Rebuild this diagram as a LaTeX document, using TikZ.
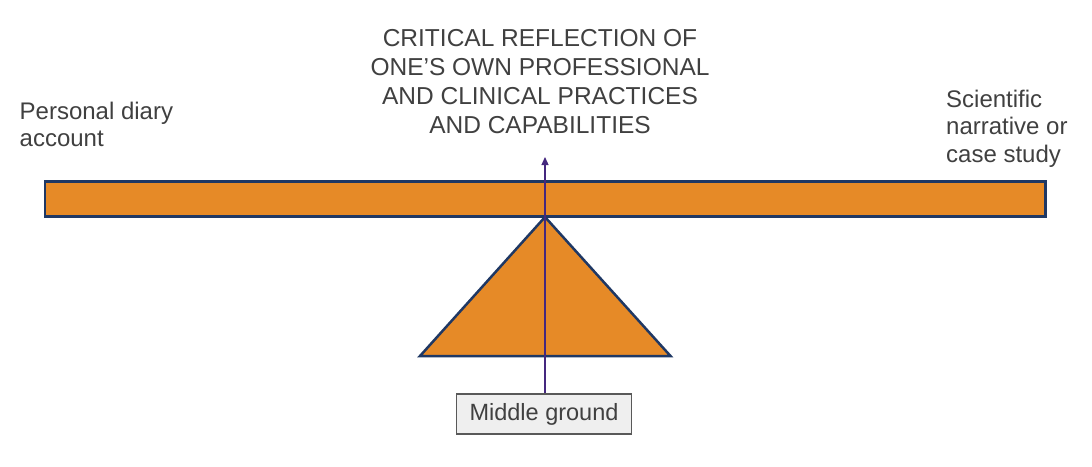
\documentclass[tikz,border=0pt]{standalone}
\usepackage{fontspec}
\setmainfont{Liberation Sans}
\usetikzlibrary{arrows.meta}
\definecolor{barorange}{HTML}{E68A27}
\definecolor{navy}{HTML}{1F3864}
\definecolor{txtgray}{HTML}{404040}
\definecolor{arrowpurple}{HTML}{45287F}
\definecolor{boxborder}{HTML}{595959}
\definecolor{boxfill}{HTML}{EFEFEF}
\tikzset{
  label text/.style={text=txtgray, inner sep=0pt, font=\fontsize{24}{27.5}\selectfont},
  shape fill/.style={fill=barorange, draw=navy, line width=2.5pt, line join=miter},
  pointer/.style={draw=arrowpurple, line width=1.2pt, -{Triangle[width=7pt,length=8pt]}},
  groundbox/.style={draw=boxborder, fill=boxfill, line width=1.8pt, minimum width=175pt, minimum height=40pt, inner sep=0pt, text=txtgray, font=\fontsize{23.5}{28}\selectfont}
}
\begin{document}
\begin{tikzpicture}[x=1pt,y=-1pt]
\useasboundingbox (0,0) rectangle (1092,466);
% beam
\draw[shape fill] (45,181.5) rectangle (1045.5,216.5);
% fulcrum
\draw[shape fill] (420,356) -- (545,217) -- (670.5,356) -- cycle;
% middle ground box
\node[groundbox] (mg) at (544,414) {Middle ground};
\coordinate (tip) at (545,157);
\draw[pointer] (mg.north -| tip) -- (tip);
% texts
\node[label text, anchor=north west, align=left] (left) at (19.5,101.5) {Personal diary\\account};
\node[label text, anchor=north west, align=left] (right) at (946,89.5) {Scientific\\narrative or\\case study};
\node[label text, anchor=north, align=center, font=\fontsize{24.5}{29}\selectfont] (top) at (540,29.5) {CRITICAL REFLECTION OF\\ONE’S OWN PROFESSIONAL\\AND CLINICAL PRACTICES\\AND CAPABILITIES};
\end{tikzpicture}
\end{document}
